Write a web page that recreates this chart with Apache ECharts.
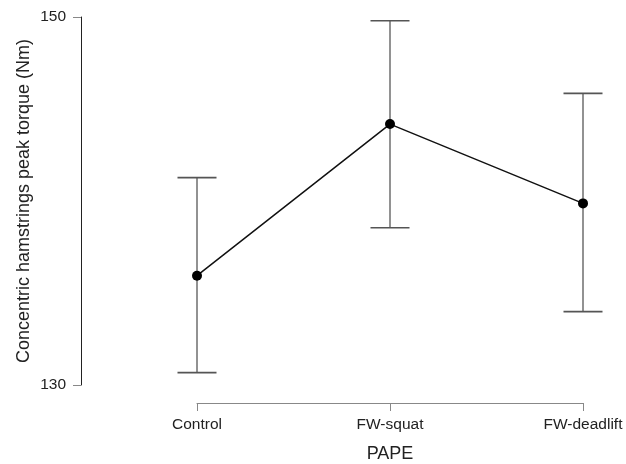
<!DOCTYPE html>
<html><head><meta charset="utf-8">
<script src="https://cdn.jsdelivr.net/npm/echarts@6/dist/echarts.min.js"></script>
<style>html,body{margin:0;padding:0;background:#fff}#c{width:626px;height:464px}</style>
</head><body><div id="c"></div>
<script>
var categories = ['Control', 'FW-squat', 'FW-deadlift'];
var means = [135.94, 144.18, 139.87];
var lower = [130.67, 138.55, 133.99];
var upper = [141.27, 149.8, 145.85];
var yTicks = [130, 150];

var chart = echarts.init(document.getElementById('c'));
var errData = categories.map(function (c, i) { return [i, lower[i], upper[i]]; });
chart.setOption({
  animation: false,
  grid: { left: 197, right: 43, top: 17, bottom: 79, outerBoundsMode: 'none', containLabel: false },
  xAxis: {
    type: 'category', data: categories, boundaryGap: false, offset: 18,
    name: 'PAPE', nameLocation: 'middle', nameGap: 42,
    nameTextStyle: { fontFamily: 'Liberation Sans', fontSize: 18, color: '#222' },
    axisLine: { lineStyle: { color: '#888', width: 1 } },
    axisTick: { inside: false, length: 8, lineStyle: { color: '#888' } },
    axisLabel: { fontFamily: 'Liberation Sans', fontSize: 15.5, color: '#222', margin: 14 },
    splitLine: { show: false }
  },
  yAxis: {
    type: 'value', min: 130, max: 150, interval: 20, offset: 116,
    name: 'Concentric hamstrings peak torque (Nm)', nameLocation: 'middle', nameGap: 48,
    nameMoveOverlap: false,
    nameTextStyle: { fontFamily: 'Liberation Sans', fontSize: 18, color: '#222' },
    axisLine: { show: true, lineStyle: { color: '#222', width: 1 } },
    axisTick: { show: true, length: 8, lineStyle: { color: '#888' } },
    axisLabel: { fontFamily: 'Liberation Sans', fontSize: 15.5, color: '#222', margin: 15,
      formatter: function (v) { return yTicks.indexOf(v) >= 0 ? String(v) : ''; } },
    splitLine: { show: false }
  },
  series: [
    {
      type: 'custom', data: errData, z: 1,
      renderItem: function (params, api) {
        var x = api.value(0);
        var lo = api.coord([x, api.value(1)]);
        var hi = api.coord([x, api.value(2)]);
        var hw = 19.5;
        return { type: 'group', children: [
          { type: 'line', shape: { x1: lo[0], y1: lo[1], x2: hi[0], y2: hi[1] }, style: { stroke: '#777', lineWidth: 1.6 } },
          { type: 'line', shape: { x1: lo[0] - hw, y1: lo[1], x2: lo[0] + hw, y2: lo[1] }, style: { stroke: '#555', lineWidth: 1.6 } },
          { type: 'line', shape: { x1: hi[0] - hw, y1: hi[1], x2: hi[0] + hw, y2: hi[1] }, style: { stroke: '#555', lineWidth: 1.6 } }
        ] };
      }
    },
    {
      type: 'line', data: means, z: 2,
      symbol: 'circle', symbolSize: 10,
      itemStyle: { color: '#000' },
      lineStyle: { color: '#111', width: 1.5 }
    }
  ]
});
</script></body></html>
